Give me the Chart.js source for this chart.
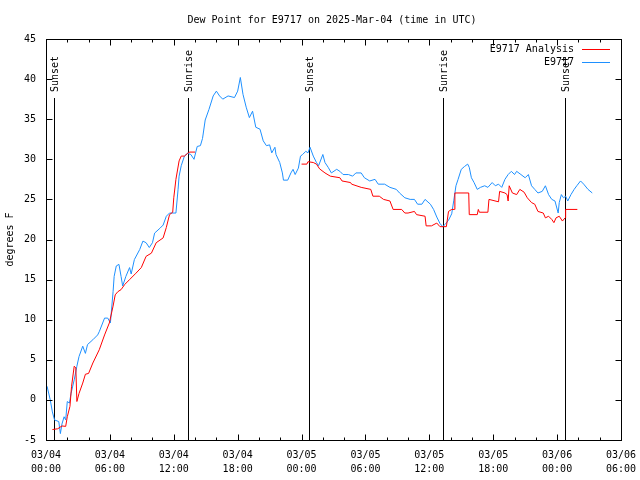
<!DOCTYPE html>
<html>
<head>
<meta charset="utf-8">
<script src="https://cdn.jsdelivr.net/npm/chart.js@4/dist/chart.umd.min.js"></script>
<style>
  html, body { margin: 0; padding: 0; background: #fff; }
  canvas { display: block; }
</style>
</head>
<body>
<canvas id="dewChart" width="640" height="480"></canvas>
<script>
'use strict'

/* Dew point, hours since 03/04 00:00 UTC */

const obsHours = [0.1, 0.4, 0.6, 0.8, 1.2, 1.35, 1.5, 1.7, 1.85, 2.0, 2.2, 2.35, 2.65, 2.9, 3.1, 3.45, 3.7, 3.9, 4.4, 4.85,
  5.0, 5.5, 5.8, 6.05, 6.3, 6.4, 6.6, 6.85, 7.05, 7.2, 7.5, 7.85, 8.0, 8.3, 8.8, 9.1, 9.4, 9.7, 10.0, 10.2,
  10.7, 11.0, 11.3, 11.6, 12.2, 12.4, 12.5, 12.7, 13.0, 13.3, 13.6, 13.9, 14.2, 14.5, 14.7, 14.95, 15.3, 15.7, 16.0, 16.3,
  16.6, 17.1, 17.7, 18.0, 18.25, 18.5, 18.8, 19.1, 19.4, 19.7, 20.1, 20.4, 20.7, 21.0, 21.2, 21.5, 21.6, 21.95, 22.2, 22.3,
  22.7, 23.0, 23.2, 23.4, 23.7, 23.9, 24.1, 24.4, 24.6, 24.8, 25.1, 25.4, 25.6, 26.0, 26.2, 26.5, 26.8, 27.3, 27.6, 27.9,
  28.4, 28.8, 29.1, 29.6, 29.9, 30.4, 30.9, 31.2, 31.8, 32.3, 32.9, 33.2, 33.7, 34.2, 34.6, 34.9, 35.3, 35.6, 36.1, 36.4,
  36.7, 37.0, 37.25, 37.5, 37.8, 38.1, 38.3, 38.5, 38.7, 39.0, 39.3, 39.6, 39.75, 39.95, 40.2, 40.5, 40.8, 41.2, 41.5, 41.9,
  42.2, 42.5, 42.8, 43.1, 43.4, 43.7, 44.0, 44.2, 44.6, 45.0, 45.3, 45.6, 45.9, 46.2, 46.6, 46.9, 47.2, 47.5, 47.8, 48.1,
  48.2, 48.4, 48.6, 48.8, 49.0, 49.3, 49.6, 49.85, 50.2, 50.5, 50.9, 51.3];
const obsDew = [1.7, 0.0, -1.5, -2.5, -2.7, -4.2, -3.0, -2.1, -2.5, -0.2, -0.4, 0.8, 2.5, 4.2, 5.4, 6.7, 5.8, 6.9, 7.5, 8.1,
  8.5, 10.2, 10.2, 9.6, 13.5, 15.4, 16.7, 16.9, 15.4, 14.2, 15.4, 16.5, 15.7, 17.5, 18.75, 19.8, 19.6, 19.0, 19.6, 20.8,
  21.4, 21.8, 22.9, 23.3, 23.3, 26.2, 27.9, 29.2, 30.4, 30.75, 30.6, 30.0, 31.6, 31.7, 32.6, 34.9, 36.2, 37.9, 38.5, 37.9,
  37.5, 37.9, 37.7, 38.5, 40.2, 38.1, 36.5, 35.2, 36.0, 34.0, 33.75, 32.3, 31.7, 31.8, 30.8, 31.5, 30.6, 29.6, 28.3, 27.4,
  27.4, 28.3, 28.75, 28.1, 28.9, 30.4, 30.6, 31.0, 30.8, 31.5, 30.4, 29.6, 29.2, 30.6, 29.6, 29.0, 28.3, 28.75, 28.5, 28.1,
  28.1, 27.9, 28.3, 28.3, 27.7, 27.3, 27.5, 26.9, 26.9, 26.5, 26.25, 25.8, 25.2, 25.0, 25.0, 24.4, 24.4, 25.0, 24.4, 23.75,
  22.8, 22.0, 21.6, 21.9, 22.4, 23.2, 24.9, 26.7, 27.5, 28.75, 29.1, 29.4, 29.0, 27.7, 27.1, 26.25, 26.5, 26.7, 26.5, 27.1,
  26.7, 26.9, 26.5, 27.5, 28.1, 28.5, 28.1, 28.5, 28.1, 27.7, 28.1, 26.7, 26.25, 25.8, 26.0, 26.7, 25.6, 25.0, 24.8, 23.3,
  24.6, 25.6, 25.2, 25.4, 24.8, 25.6, 26.25, 26.7, 27.3, 26.9, 26.25, 25.8];

const anaHours = [0.6, 1.1, 1.5, 1.85, 2.0, 2.25, 2.4, 2.65, 2.8, 2.9, 3.1, 3.45, 3.7, 4.0, 4.4, 5.0, 5.5, 5.95, 6.3, 6.5,
  6.75, 7.05, 7.4, 7.85, 8.45, 8.95, 9.4, 9.9, 10.35, 11.0, 11.3, 11.6, 11.9, 12.0, 12.2, 12.5, 12.7, 13.0, 13.3, 13.5,
  14.0, 19.0, 24.0, 24.5, 24.6, 25.1, 25.4, 25.7, 26.2, 26.7, 27.6, 27.8, 28.6, 28.7, 29.6, 30.5, 30.7, 31.3, 31.7, 32.3,
  32.6, 33.4, 33.7, 34.0, 34.6, 34.8, 35.6, 35.7, 36.2, 36.7, 37.0, 37.6, 37.8, 38.1, 38.35, 38.4, 39.7, 39.75, 40.5, 40.6,
  40.7, 41.5, 41.6, 42.5, 42.6, 43.1, 43.3, 43.4, 43.5, 43.8, 44.2, 44.5, 44.9, 45.2, 45.6, 45.9, 46.2, 46.7, 46.9, 47.2,
  47.5, 47.7, 47.9, 48.2, 48.5, 48.75, 48.8, 49.9];
const anaDew = [-3.7, -3.6, -3.25, -3.3, -2.1, -0.8, 1.7, 4.2, 4.0, -0.2, 0.8, 2.1, 3.2, 3.3, 4.6, 6.25, 8.1, 9.6, 11.7, 13.1,
  13.5, 13.75, 14.4, 15.0, 15.8, 16.5, 17.9, 18.3, 19.6, 20.2, 21.5, 23.1, 23.4, 25.2, 27.5, 29.8, 30.4, 30.4, 30.75, 30.9,
  30.9, null, 29.4, 29.4, 29.7, 29.6, 29.4, 28.8, 28.3, 27.9, 27.7, 27.3, 27.1, 26.9, 26.5, 26.25, 25.4, 25.4, 25.0, 24.8,
  23.75, 23.75, 23.3, 23.3, 23.5, 23.1, 22.9, 21.7, 21.7, 22.05, 21.6, 21.6, 23.5, 23.75, 23.75, 25.8, 25.8, 23.1, 23.1, 23.75,
  23.4, 23.4, 25.0, 24.7, 26.0, 25.8, 25.6, 24.8, 26.7, 25.8, 25.6, 26.25, 25.9, 25.2, 24.6, 24.4, 23.5, 23.3, 22.7, 22.9,
  22.5, 22.1, 22.7, 22.9, 22.3, 22.7, 23.75, 23.75];

const tickDates = ['03/04', '03/04', '03/04', '03/04', '03/05', '03/05', '03/05', '03/05', '03/06', '03/06'];
const tickTimes = ['00:00', '06:00', '12:00', '18:00', '00:00', '06:00', '12:00', '18:00', '00:00', '06:00'];

const sunHours = [0.75, 13.34, 24.7, 37.28, 48.74];
const sunLabels = ['Sunset', 'Sunrise', 'Sunset', 'Sunrise', 'Sunset'];

const FONT = '"DejaVu Sans Mono", "Liberation Mono", monospace';

function toPoints(xs, ys) {
  const pts = [];
  for (let i = 0; i < xs.length; i++) {
    pts.push({ x: xs[i], y: ys[i] });
  }
  return pts;
}

// gnuplot-like frame, inward ticks, sun lines, title and key
const gnuplotLook = {
  id: 'gnuplotLook',
  beforeDatasetsDraw(chart) {
    const c = chart.ctx;
    const a = chart.chartArea;
    const xs = chart.scales.x;
    c.save();
    c.strokeStyle = '#000';
    c.lineWidth = 1;
    c.fillStyle = '#000';
    c.font = '10px ' + FONT;
    for (let i = 0; i < sunHours.length; i++) {
      const px = Math.round(xs.getPixelForValue(sunHours[i])) + 0.5;
      c.beginPath();
      c.moveTo(px, 98);
      c.lineTo(px, a.bottom);
      c.stroke();
      c.save();
      c.translate(px + 1, 92);
      c.rotate(-Math.PI / 2);
      c.textAlign = 'left';
      c.textBaseline = 'middle';
      c.fillText(sunLabels[i], 0, 0);
      c.restore();
    }
    c.restore();
  },
  afterDraw(chart) {
    const c = chart.ctx;
    const a = chart.chartArea;
    const xs = chart.scales.x;
    const ys = chart.scales.y;
    const L = Math.round(a.left) + 0.5, R = Math.round(a.right) + 0.5;
    const T = Math.round(a.top) + 0.5, B = Math.round(a.bottom) + 0.5;
    c.save();
    c.strokeStyle = '#000';
    c.lineWidth = 1;
    c.strokeRect(L, T, R - L, B - T);

    c.beginPath();
    for (let h = 0; h <= 54; h += 2) {
      const px = Math.round(xs.getPixelForValue(h)) + 0.5;
      const len = (h % 6 === 0) ? 6 : 3;
      c.moveTo(px, B); c.lineTo(px, B - len);
      c.moveTo(px, T); c.lineTo(px, T + len);
    }
    for (let v = -5; v <= 45; v += 5) {
      const py = Math.round(ys.getPixelForValue(v)) + 0.5;
      c.moveTo(L, py); c.lineTo(L + 6, py);
      c.moveTo(R, py); c.lineTo(R - 6, py);
    }
    c.stroke();

    c.fillStyle = '#000';
    c.font = '10px ' + FONT;
    c.textAlign = 'center';
    c.textBaseline = 'middle';
    c.fillText('Dew Point for E9717 on 2025-Mar-04 (time in UTC)', 332, 20);

    // key
    c.textAlign = 'right';
    chart.data.datasets.forEach(function (ds, i) {
      const ky = 49.5 + i * 13;
      c.fillStyle = '#000';
      c.fillText(ds.label, 574, ky);
      c.strokeStyle = ds.borderColor;
      c.beginPath();
      c.moveTo(582, ky);
      c.lineTo(610, ky);
      c.stroke();
    });
    c.restore();
  }
};

const ctx = document.getElementById('dewChart');

new Chart(ctx, {
  type: 'line',
  data: {
    datasets: [{
      label: 'E9717 Analysis',
      data: toPoints(anaHours, anaDew),
      borderColor: '#ff0000',
      borderWidth: 1,
      pointRadius: 0,
      spanGaps: false,
      tension: 0
    }, {
      label: 'E9717',
      data: toPoints(obsHours, obsDew),
      borderColor: '#1e90ff',
      borderWidth: 1,
      pointRadius: 0,
      tension: 0
    }]
  },
  options: {
    responsive: false,
    animation: false,
    devicePixelRatio: 1,
    layout: { padding: { top: 39, right: 19, left: 0, bottom: 0 } },
    plugins: {
      legend: { display: false },
      title: { display: false },
      tooltip: { enabled: false }
    },
    scales: {
      x: {
        type: 'linear',
        min: 0,
        max: 54,
        afterFit: function (s) {
          s.height = 40;
          s.paddingLeft = 0;
          s.paddingRight = 0;
        },
        grid: { display: false, drawTicks: false },
        border: { display: false },
        ticks: {
          stepSize: 6,
          autoSkip: false,
          maxRotation: 0,
          padding: 9,
          color: '#000',
          font: { family: FONT, size: 10, lineHeight: 1.35 },
          callback: function (v) {
            const i = Math.round(v / 6);
            return [tickDates[i], tickTimes[i]];
          }
        }
      },
      y: {
        min: -5,
        max: 45,
        afterFit: function (s) { s.width = 46; },
        grid: { display: false, drawTicks: false },
        border: { display: false },
        ticks: {
          stepSize: 5,
          padding: 10,
          color: '#000',
          font: { family: FONT, size: 10 }
        },
        title: {
          display: true,
          text: 'degrees F',
          color: '#000',
          padding: { top: 4, bottom: 0 },
          font: { family: FONT, size: 10 }
        }
      }
    }
  },
  plugins: [gnuplotLook]
});
</script>
</body>
</html>
